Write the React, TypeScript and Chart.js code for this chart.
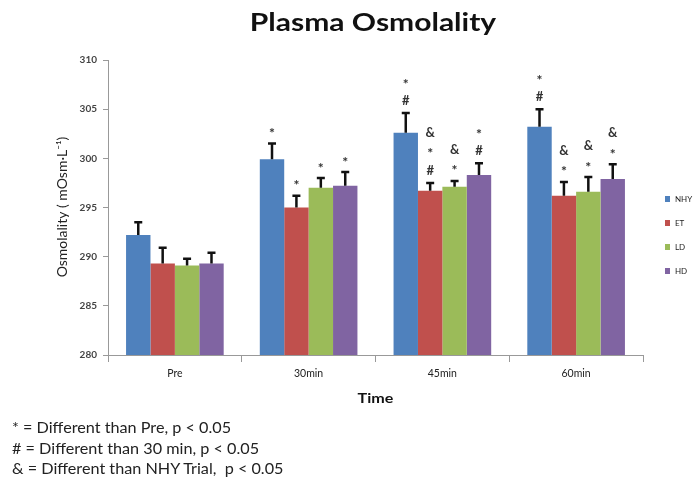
import React, { useEffect, useRef } from "react";
import { Chart, registerables } from "chart.js";

Chart.register(...registerables);

const categories = ["Pre", "30min", "45min", "60min"];
const seriesNames = ["NHY", "ET", "LD", "HD"];
const seriesColors = ["#4F81BD", "#C0504D", "#9BBB59", "#8064A2"];

const nhyValues = [292.2, 299.9, 302.6, 303.2];
const etValues = [289.3, 295.0, 296.7, 296.2];
const ldValues = [289.1, 297.0, 297.1, 296.6];
const hdValues = [289.3, 297.2, 298.3, 297.9];

const nhyErrors = [1.3, 1.6, 2.0, 1.8];
const etErrors = [1.6, 1.2, 0.8, 1.4];
const ldErrors = [0.7, 1.0, 0.6, 1.5];
const hdErrors = [1.1, 1.4, 1.2, 1.5];

// significance markers, listed top to bottom
const nhyMarks = [[], ["*"], ["*", "#"], ["*", "#"]];
const etMarks = [[], ["*"], ["&", "*", "#"], ["&", "*"]];
const ldMarks = [[], ["*"], ["&", "*"], ["&", "*"]];
const hdMarks = [[], ["*"], ["*", "#"], ["&", "*"]];

const yMin = 280;
const yMax = 310;
const yStep = 5;

const footnotes = [
  "* = Different than Pre, p < 0.05",
  "# = Different than 30 min, p < 0.05",
  "& = Different than NHY Trial,  p < 0.05",
];

const FONT = "Lato, 'Open Sans', sans-serif";

const allValues = [nhyValues, etValues, ldValues, hdValues];
const allErrors = [nhyErrors, etErrors, ldErrors, hdErrors];
const allMarks = [nhyMarks, etMarks, ldMarks, hdMarks];

const overlayPlugin = {
  id: "overlay",
  afterDatasetsDraw(chart: any) {
    const ctx = chart.ctx;
    const y = chart.scales.y;
    ctx.save();
    allValues.forEach((vals, di) => {
      const meta = chart.getDatasetMeta(di);
      meta.data.forEach((bar: any, i: number) => {
        const top = y.getPixelForValue(vals[i] + allErrors[di][i]);
        const base = y.getPixelForValue(vals[i]);
        const x = bar.x;
        ctx.strokeStyle = "#111";
        ctx.lineWidth = 2.5;
        ctx.beginPath();
        ctx.moveTo(x, base);
        ctx.lineTo(x, top);
        ctx.moveTo(x - 4, top);
        ctx.lineTo(x + 4, top);
        ctx.stroke();
        const marks = allMarks[di][i];
        ctx.fillStyle = "#333";
        ctx.textAlign = "center";
        ctx.textBaseline = "middle";
        const n = marks.length;
        marks.forEach((m: string, k: number) => {
          const idxFromBottom = n - 1 - k;
          const ty = top - 12 - idxFromBottom * 19;
          ctx.font = (m === "*" ? "bold 14px " : "bold 13px ") + FONT;
          ctx.fillText(m, x, m === "*" ? ty + 2 : ty);
        });
      });
    });
    ctx.restore();
  },
  afterDraw(chart: any) {
    const ctx = chart.ctx;
    const area = chart.chartArea;
    ctx.save();
    // title
    ctx.fillStyle = "#111";
    ctx.textAlign = "center";
    ctx.textBaseline = "middle";
    ctx.save();
    ctx.translate(373, 23);
    ctx.scale(1.25, 1);
    ctx.font = "bold 24px " + FONT;
    ctx.fillText("Plasma Osmolality", 0, 0);
    ctx.restore();
    // x axis title
    ctx.save();
    ctx.translate((area.left + area.right) / 2, 398);
    ctx.scale(1.15, 1);
    ctx.font = "bold 14px " + FONT;
    ctx.fillText("Time", 0, 0);
    ctx.restore();
    // y axis title
    ctx.save();
    ctx.translate(62, 207);
    ctx.rotate(-Math.PI / 2);
    ctx.font = "14px " + FONT;
    ctx.fillStyle = "#222";
    ctx.fillText("Osmolality ( mOsm\u00B7L\u207B\u00B9)", 0, 0);
    ctx.restore();
    // legend
    ctx.font = "8px " + FONT;
    ctx.textAlign = "left";
    seriesNames.forEach((name, i) => {
      const cy = 199 + i * 24;
      ctx.fillStyle = seriesColors[i];
      ctx.fillRect(665, cy - 3, 5, 6);
      ctx.fillStyle = "#222";
      ctx.fillText(name, 675, cy);
    });
    ctx.restore();
  },
};

export default function App() {
  const ref = useRef<HTMLCanvasElement>(null);
  useEffect(() => {
    if (!ref.current) return;
    const chart = new Chart(ref.current, {
      type: "bar",
      data: {
        labels: categories,
        datasets: seriesNames.map((name, i) => ({
          label: name,
          data: allValues[i],
          backgroundColor: seriesColors[i],
          borderWidth: 0,
          barPercentage: 1.0,
          categoryPercentage: 0.73,
        })),
      },
      options: {
        animation: false,
        responsive: false,
        layout: { padding: { top: 60, right: 52, left: 0, bottom: 0 } },
        plugins: {
          legend: { display: false },
          title: { display: false },
          tooltip: { enabled: false },
        },
        scales: {
          x: {
            afterFit: (s: any) => {
              s.height = 128;
            },
            grid: {
              display: true,
              offset: true,
              drawOnChartArea: false,
              drawTicks: true,
              tickLength: 7,
              color: "#999",
            },
            border: { display: true, color: "#999", width: 1 },
            ticks: {
              font: { family: FONT, size: 10.5 },
              color: "#222",
              padding: 5,
            },
          },
          y: {
            min: yMin,
            max: yMax,
            afterFit: (s: any) => {
              s.width = 108;
            },
            grid: {
              display: true,
              drawOnChartArea: false,
              drawTicks: true,
              tickLength: 5,
              color: "#999",
            },
            border: { display: true, color: "#999", width: 1 },
            ticks: {
              stepSize: yStep,
              font: { family: FONT, size: 10, weight: "bold" },
              color: "#444",
              padding: 6,
            },
          },
        },
      },
      plugins: [overlayPlugin],
    });
    return () => chart.destroy();
  }, []);

  return (
    <div
      style={{
        position: "absolute",
        left: 0,
        top: 0,
        width: 695,
        height: 483,
        background: "#fff",
        overflow: "hidden",
      }}
    >
      <canvas ref={ref} width={695} height={483} style={{ display: "block" }} />
      {footnotes.map((t, i) => (
        <div
          key={i}
          style={{
            position: "absolute",
            left: 12,
            top: 418 + i * 20.5,
            fontFamily: FONT,
            fontSize: 15,
            lineHeight: "18px",
            color: "#222",
            whiteSpace: "pre",
            transform: "scaleX(1.08)",
            transformOrigin: "left center",
          }}
        >
          {t}
        </div>
      ))}
    </div>
  );
}
